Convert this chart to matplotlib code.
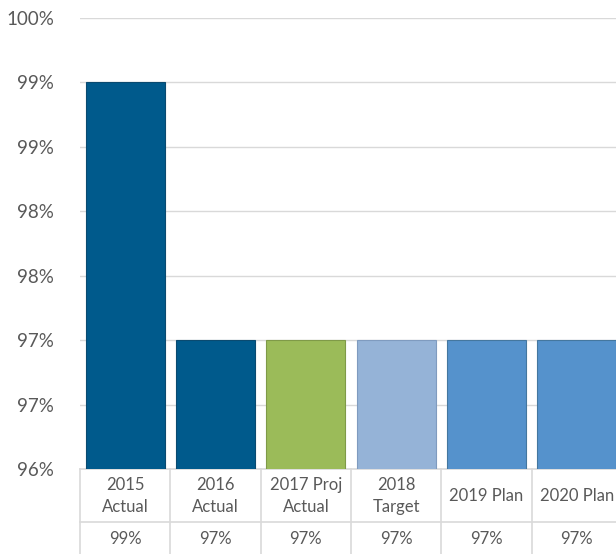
import matplotlib
matplotlib.use("Agg")
import matplotlib.pyplot as plt
import numpy as np

plt.rcParams['font.family'] = ['Lato', 'DejaVu Sans']

# data
categories = ["2015\nActual", "2016\nActual", "2017 Proj\nActual", "2018\nTarget", "2019 Plan", "2020 Plan"]
values = [99.4, 97.4, 97.4, 97.4, 97.4, 97.4]
table_labels = ["99%", "97%", "97%", "97%", "97%", "97%"]
colors = ["#005a8c", "#005a8c", "#9bbb59", "#95b3d7", "#5592cc", "#5592cc"]
edges = ["#0a4a70", "#0a4a70", "#7f9a48", "#7f9bbf", "#44779f", "#44779f"]

TXT = "#595959"
GRID = "#d9d9d9"

fig = plt.figure(figsize=(6.16, 5.54), dpi=100)
ax = fig.add_axes([80/616, 85/554, 542/616, 451/554])

x = np.arange(len(categories))
ax.bar(x, values, width=0.875, color=colors, edgecolor=edges, linewidth=0.8, zorder=3)

ax.set_xlim(-0.5, len(categories) - 0.5)
ax.set_ylim(96.4, 99.9)
yt = np.arange(96.4, 99.95, 0.5)
ax.set_yticks(yt)
ax.set_yticklabels([f"{v:.0f}%" for v in yt], fontsize=13.5, color=TXT)
ax.tick_params(axis='y', length=0, pad=18.5)
ax.set_xticks([])
ax.grid(axis='y', color=GRID, linewidth=1, zorder=0)
for s in ax.spines.values():
    s.set_visible(False)

# data table under the plot
tr = ax.get_xaxis_transform()
row1, row2, mid, bot = -0.0600, -0.155, -0.1175, -0.2
for i, (c, t) in enumerate(zip(categories, table_labels)):
    ax.text(i, row1, c, transform=tr, ha='center', va='center', fontsize=12,
            color=TXT, linespacing=1.5, clip_on=False)
    ax.text(i, row2, t, transform=tr, ha='center', va='center', fontsize=12,
            color=TXT, clip_on=False)
for b in np.arange(len(categories) + 1) - 0.5:
    ax.plot([b, b], [0, bot], transform=tr, color=GRID, linewidth=1.2, clip_on=False)
for yy in (0, mid):
    ax.plot([-0.5, len(categories) - 0.5], [yy, yy], transform=tr, color=GRID,
            linewidth=1.2, clip_on=False)

fig.savefig("out.png", dpi=100)
